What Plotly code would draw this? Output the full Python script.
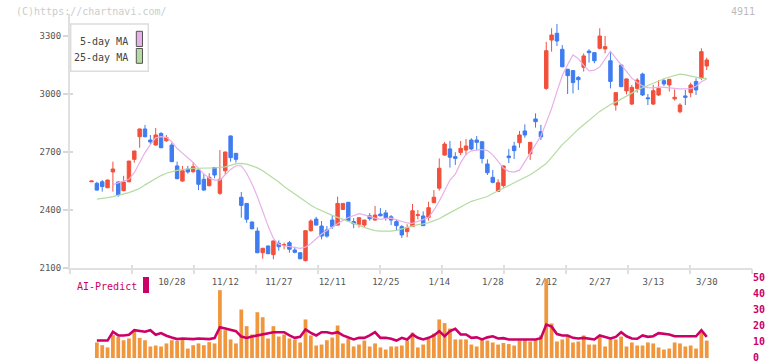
import plotly.graph_objects as go

dates = ["10/6","10/7","10/8","10/9","10/10","10/14","10/15","10/16","10/17","10/20","10/21","10/22","10/23","10/24","10/27","10/28","10/29","10/30","10/31",
         "11/4","11/5","11/6","11/7","11/10","11/11","11/12","11/13","11/14","11/17","11/18","11/19","11/20","11/21","11/25","11/26","11/27","11/28",
         "12/1","12/2","12/3","12/4","12/5","12/8","12/9","12/10","12/11","12/12","12/15","12/16","12/17","12/18","12/19","12/22","12/23","12/24","12/25","12/26","12/29","12/30",
         "1/5","1/6","1/7","1/8","1/9","1/13","1/14","1/15","1/16","1/19","1/20","1/21","1/22","1/23","1/26","1/27","1/28","1/29","1/30",
         "2/2","2/3","2/4","2/5","2/6","2/9","2/10","2/12","2/13","2/16","2/17","2/18","2/19","2/20","2/24","2/25","2/26","2/27",
         "3/2","3/3","3/4","3/5","3/6","3/9","3/10","3/11","3/12","3/13","3/16","3/17","3/18","3/19","3/23","3/24","3/25","3/26","3/27","3/30"]

tick_labels = ["10/28","11/12","11/27","12/11","12/25","1/14","1/28","2/12","2/27","3/13","3/30"]
price_ticks = [2100, 2400, 2700, 3000, 3300]
vol_ticks = [0, 10, 20, 30, 40, 50]

opens = [2546,2538,2546,2515,2597,2545,2500,2546,2662,2779,
         2819,2762,2736,2796,2758,2736,2628,2550,2612,2598,
         2607,2559,2526,2620,2486,2603,2783,2693,2466,2434,
         2338,2291,2179,2214,2169,2228,2218,2231,2193,2179,
         2138,2293,2353,2317,2297,2348,2322,2403,2440,2340,
         2326,2322,2370,2348,2379,2385,2365,2340,2314,2288,
         2314,2372,2369,2362,2438,2513,2684,2716,2676,2697,
         2710,2762,2762,2753,2638,2569,2496,2526,2679,2731,
         2748,2809,2690,2871,2805,3029,3279,3314,3231,3128,
         3121,3086,3138,3222,3214,3236,3233,3172,2943,3150,
         3016,2948,3029,3103,2980,2948,2995,3069,3047,2975,
         2908,2990,3007,3065,3081,3145]
closes = [2550,2503,2521,2555,2612,2478,2545,2653,2705,2819,
          2779,2752,2788,2722,2774,2650,2562,2603,2597,2624,
          2533,2503,2569,2581,2559,2700,2671,2662,2424,2352,
          2303,2179,2202,2174,2240,2210,2220,2197,2181,2148,
          2293,2343,2322,2265,2265,2314,2434,2434,2345,2329,
          2360,2348,2355,2374,2370,2360,2348,2319,2271,2308,
          2396,2375,2319,2412,2466,2616,2741,2673,2667,2719,
          2731,2716,2750,2667,2593,2543,2541,2628,2671,2707,
          2788,2788,2750,2857,2778,3224,3305,3274,3141,3095,
          3059,3074,3197,3214,3172,3300,3245,3065,3007,3038,
          3078,3034,3072,2995,2976,3017,3029,3052,3076,2983,
          2943,2983,3047,3021,3219,3176]
highs = [2550,2546,2555,2557,2650,2548,2577,2655,2707,2821,
         2840,2788,2824,2803,2788,2748,2650,2628,2628,2647,
         2609,2586,2590,2622,2710,2702,2785,2695,2493,2436,
         2340,2310,2204,2216,2242,2243,2231,2240,2210,2181,
         2295,2352,2365,2343,2317,2374,2469,2436,2442,2358,
         2362,2350,2384,2421,2410,2400,2374,2352,2322,2326,
         2431,2400,2393,2443,2503,2667,2752,2757,2699,2757,
         2767,2771,2783,2755,2662,2607,2559,2630,2716,2753,
         2809,2843,2752,2900,2840,3270,3340,3362,3253,3130,
         3123,3093,3210,3231,3216,3340,3300,3219,3009,3152,
         3080,3047,3081,3110,3000,3047,3072,3081,3078,3024,
         2952,3021,3059,3081,3236,3188]
lows = [2546,2500,2495,2513,2495,2469,2497,2544,2645,2722,
        2776,2741,2733,2720,2753,2648,2559,2546,2588,2593,
        2503,2500,2521,2564,2478,2581,2650,2645,2360,2334,
        2300,2177,2148,2172,2145,2190,2197,2179,2176,2145,
        2134,2288,2320,2248,2257,2302,2320,2400,2343,2306,
        2310,2310,2345,2345,2368,2345,2322,2295,2255,2259,
        2312,2352,2317,2345,2436,2500,2681,2619,2633,2684,
        2684,2710,2710,2641,2581,2538,2494,2516,2643,2664,
        2722,2774,2659,2826,2762,3021,3219,3248,3138,3000,
        3003,3021,3116,3162,3159,3231,3210,3029,2914,3036,
        2998,2943,3007,2990,2943,2943,2990,3041,3013,2966,
        2900,2943,2983,2995,3072,3124]

ma5 = [None,None,None,None,2531,2540,2548,2559,2593,2646,
       2697,2738,2773,2779,2776,2753,2718,2694,2670,2646,
       2615,2587,2565,2555,2555,2581,2610,2629,2629,2590,
       2535,2470,2393,2318,2253,2223,2215,2210,2206,2202,
       2208,2226,2251,2276,2294,2313,2332,2347,2361,2372,
       2381,2375,2365,2358,2352,2357,2358,2350,2342,2333,
       2331,2340,2348,2361,2399,2445,2500,2555,2585,2645,
       2688,2706,2710,2713,2707,2685,2652,2617,2600,2596,
       2606,2650,2691,2737,2783,2852,2925,3012,3096,3152,
       3202,3183,3148,3120,3123,3140,3183,3221,3186,3151,
       3114,3082,3060,3042,3033,3032,3037,3034,3030,3028,
       3027,3026,3028,3040,3063,3078]
ma25 = [None,2456,2459,2464,2469,2476,2482,2490,2500,2511,
        2530,2546,2564,2578,2590,2598,2605,2609,2613,2616,
        2616,2616,2616,2618,2620,2623,2631,2640,2641,2637,
        2628,2618,2603,2585,2565,2545,2522,2502,2481,2460,
        2442,2424,2409,2396,2383,2372,2362,2351,2341,2331,
        2320,2310,2301,2293,2291,2291,2291,2295,2303,2312,
        2319,2324,2328,2334,2345,2355,2371,2386,2402,2417,
        2432,2445,2453,2462,2470,2485,2499,2513,2527,2540,
        2553,2567,2582,2601,2620,2640,2672,2707,2738,2764,
        2792,2818,2841,2866,2887,2910,2928,2946,2958,2973,
        2990,3007,3020,3032,3044,3056,3069,3079,3088,3097,
        3103,3099,3094,3087,3081,3081]

volume = [None,9.7,8.0,6.6,14.5,13.2,11.1,12.2,16.8,12.6,
          11.1,7.2,7.8,7.2,9.1,11.1,10.7,11.6,5.9,8.0,
          9.1,8.0,9.9,9.1,42.4,17.4,11.6,9.1,30.3,19.9,
          14.7,28.6,25.5,12.2,19.9,13.4,14.7,12.2,11.6,9.7,
          24.1,14.1,7.8,8.4,11.1,12.8,20.3,9.1,12.2,7.2,
          8.4,10.9,7.2,9.1,6.6,5.3,7.2,7.2,7.8,10.9,
          15.9,6.6,8.4,12.2,15.3,24.1,21.8,18.4,11.6,11.6,
          11.6,8.4,7.2,11.6,10.9,9.7,8.4,9.4,8.7,7.8,
          10.9,11.6,10.3,11.6,14.1,49.5,21.6,10.3,11.6,14.1,
          9.7,10.3,14.1,8.4,8.4,13.4,7.2,12.2,11.6,13.4,
          7.2,9.7,7.8,7.8,9.7,9.1,6.6,5.3,5.9,9.7,
          9.1,7.2,7.8,5.9,16.8,10.9]
ai_predict = [None,10.9,10.9,10.9,16.4,14.1,14.1,14.5,17.4,16.8,
              16.4,17.4,14.5,15.6,13.9,12.8,11.8,12.2,11.8,11.8,
              12.2,12.2,11.8,12.5,19.2,18.4,17.4,16.8,13.4,12.5,
              13.4,14.1,14.7,15.3,16.1,16.1,16.1,14.1,12.6,13.2,
              17.8,15.7,14.1,16.1,16.1,15.3,16.1,14.1,12.6,11.6,
              12.6,12.6,14.1,16.1,12.6,12.6,12.0,10.9,12.6,11.6,
              14.7,12.6,11.6,12.6,14.1,16.8,13.6,16.8,18.2,14.7,
              14.7,12.6,12.9,11.6,12.9,13.6,12.2,12.4,11.6,11.6,
              11.6,11.6,12.0,11.6,12.4,20.9,19.6,15.0,14.1,14.1,
              12.6,12.2,12.6,12.0,11.6,14.1,13.2,12.2,13.2,16.1,
              13.6,12.2,12.0,14.1,13.2,13.6,15.5,15.0,14.7,13.6,
              13.6,13.6,13.6,13.6,17.4,13.2]

RED = "#f2503c"
BLUE = "#3f7cf0"
PINK = "#e8b0e8"
GREEN = "#b4dca0"
ORANGE = "#f0963c"
CRIMSON = "#cc0066"
MONO = "DejaVu Sans Mono"

fig = go.Figure()
fig.add_trace(go.Candlestick(
    x=dates, open=opens, high=highs, low=lows, close=closes,
    increasing=dict(line=dict(color=RED, width=1), fillcolor=RED),
    decreasing=dict(line=dict(color=BLUE, width=1), fillcolor=BLUE),
    whiskerwidth=0, xaxis="x", yaxis="y", hoverinfo="skip"))
fig.add_trace(go.Scatter(x=dates, y=ma5, mode="lines", line=dict(color=PINK, width=1.2),
                         xaxis="x", yaxis="y", hoverinfo="skip"))
fig.add_trace(go.Scatter(x=dates, y=ma25, mode="lines", line=dict(color=GREEN, width=1.2),
                         xaxis="x", yaxis="y", hoverinfo="skip"))
fig.add_trace(go.Bar(x=dates, y=volume, marker=dict(color=ORANGE, line=dict(width=0)),
                     xaxis="x2", yaxis="y2", hoverinfo="skip"))
fig.add_trace(go.Scatter(x=dates, y=ai_predict, mode="lines", line=dict(color=CRIMSON, width=2.6),
                         xaxis="x2", yaxis="y2", hoverinfo="skip"))
# helper traces so the overlay tick axes are drawn
fig.add_trace(go.Scatter(x=[None], y=[None], xaxis="x3", yaxis="y", hoverinfo="skip"))
fig.add_trace(go.Scatter(x=[None], y=[None], xaxis="x4", yaxis="y", hoverinfo="skip"))
fig.add_trace(go.Scatter(x=[None], y=[None], xaxis="x", yaxis="y3", hoverinfo="skip"))

W, H = 772, 361
L, R, T, B = 70, 20, 14, 3
pw, ph = W - L - R, H - T - B
def px(x):
    return (x - L) / pw
def py(y):
    return (H - B - y) / ph

xr = [-4.02, 123.46]
yr = [2100, 2100 + (268 - T) * 300 / 58]
fig.update_layout(
    template="none",
    width=W, height=H, margin=dict(l=L, r=R, t=T, b=B, autoexpand=False),
    paper_bgcolor="white", plot_bgcolor="white", showlegend=False,
    boxgap=0.08, bargap=0.3,
    xaxis=dict(type="category", range=xr, domain=[0, 1], anchor="y", automargin=False,
               showline=True, linecolor="#e0e0e0", linewidth=2,
               ticks="outside", ticklen=4, tickcolor="rgba(0,0,0,0)",
               tickvals=tick_labels, ticktext=tick_labels,
               tickfont=dict(family=MONO, size=9, color="#555"),
               showgrid=False, zeroline=False, rangeslider=dict(visible=False), fixedrange=True),
    yaxis=dict(domain=[py(268), 1], range=yr, anchor="x",
               automargin=False,
               tickvals=price_ticks, showline=True, linecolor="#e0e0e0", linewidth=2,
               ticks="outside", ticklen=5, tickcolor="#d8d8d8", tickwidth=1.5,
               tickfont=dict(family=MONO, size=9, color="#555"),
               showgrid=False, zeroline=False),
    yaxis3=dict(overlaying="y", anchor="x", range=yr, automargin=False,
                tickvals=price_ticks, ticks="inside", ticklen=3, tickcolor="#d8d8d8", tickwidth=1.5,
                showticklabels=False, showline=False, showgrid=False, zeroline=False),
    xaxis2=dict(type="category", matches="x", anchor="y2", domain=[0, 1], automargin=False,
                showline=False, showticklabels=False, ticks="", showgrid=False, zeroline=False),
    yaxis2=dict(domain=[0, py(278)], range=[0, 50], anchor="x2", side="right", automargin=False,
                tickvals=vol_ticks, showline=False, ticks="", showgrid=False, zeroline=False,
                ticklabeloverflow="allow", ticklabelshift=-1,
                tickfont=dict(family=MONO, size=10, color=CRIMSON, weight="bold")),
    xaxis3=dict(overlaying="x", anchor="y", range=[0, 11], dtick=1, domain=[0, 1], automargin=False,
                ticks="outside", ticklen=5, tickwidth=2, tickcolor="#e0e0e0",
                showticklabels=False, showline=False, showgrid=False, zeroline=False),
    xaxis4=dict(overlaying="x", anchor="y", range=[0, 11], dtick=1, domain=[0, 1], automargin=False,
                ticks="inside", ticklen=3, tickwidth=2, tickcolor="#e0e0e0",
                showticklabels=False, showline=False, showgrid=False, zeroline=False),
)

fig.add_shape(type="rect", xref="paper", yref="paper",
              x0=px(70.7), x1=px(148.3), y0=py(71.3), y1=py(24),
              line=dict(color="#dddddd", width=1.5), fillcolor="white", layer="above")
fig.add_shape(type="rect", xref="paper", yref="paper",
              x0=px(136.3), x1=px(142.5), y0=py(46.5), y1=py(31.3),
              line=dict(color="#555", width=1), fillcolor=PINK, layer="above")
fig.add_shape(type="rect", xref="paper", yref="paper",
              x0=px(136.3), x1=px(142.5), y0=py(63.3), y1=py(48.5),
              line=dict(color="#555", width=1), fillcolor=GREEN, layer="above")
fig.add_shape(type="rect", xref="paper", yref="paper",
              x0=px(143), x1=px(149), y0=py(293), y1=py(277),
              line=dict(width=0), fillcolor=CRIMSON, layer="above")

anns = [
    dict(text="(C)https://chartnavi.com/", x=px(14), y=py(12), xanchor="left",
         font=dict(family=MONO, size=10, color="#cccccc")),
    dict(text="4911", x=px(757), y=py(12), xanchor="right",
         font=dict(family=MONO, size=10, color="#bbbbbb")),
    dict(text="5-day MA", x=px(130), y=py(41), xanchor="right",
         font=dict(family=MONO, size=10, color="#444")),
    dict(text="25-day MA", x=px(130), y=py(57), xanchor="right",
         font=dict(family=MONO, size=10, color="#444")),
    dict(text="AI-Predict", x=px(75), y=py(286), xanchor="left",
         font=dict(family=MONO, size=10, color=CRIMSON)),
]
for a in anns:
    fig.add_annotation(xref="paper", yref="paper", yanchor="middle", showarrow=False, **a)

fig.write_html("out.html", config={"displayModeBar": False, "staticPlot": True},
               post_script="document.body.style.margin='0';document.body.style.padding='0';")
